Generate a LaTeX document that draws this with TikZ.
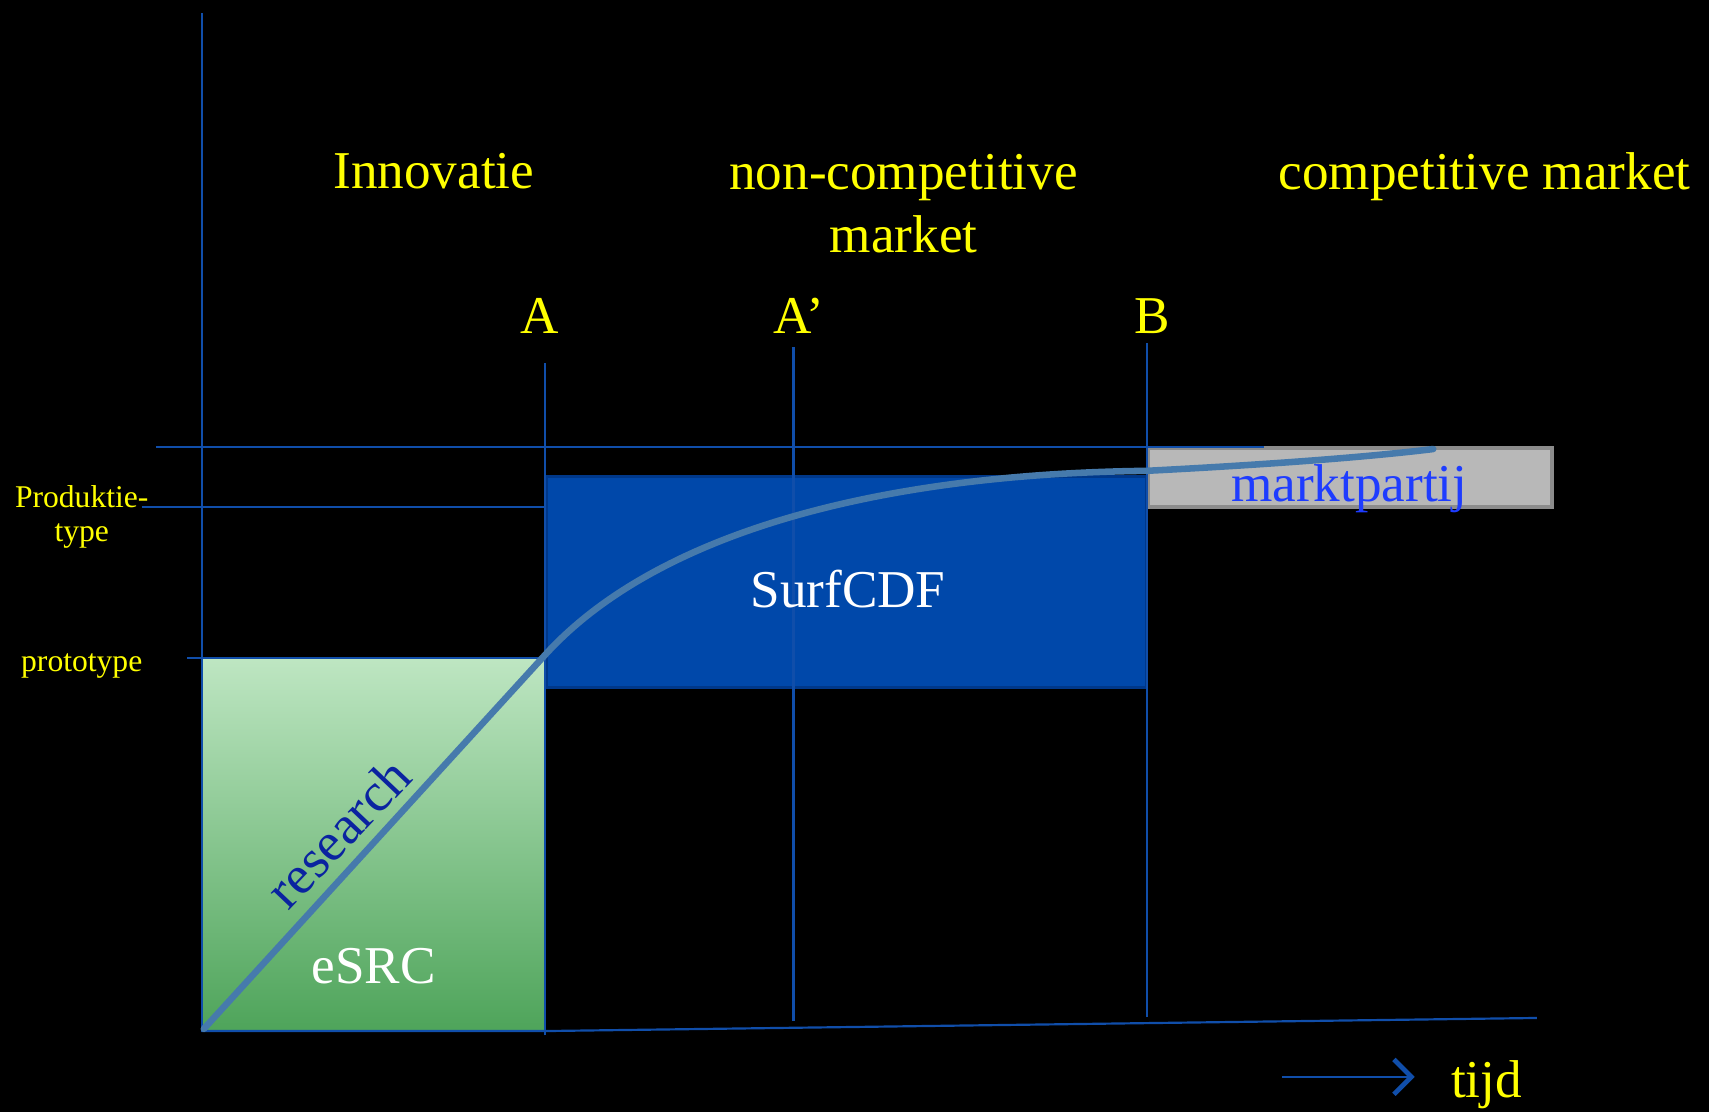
\documentclass[tikz,border=0pt]{standalone}
\usepackage{fontspec}
\setmainfont{Liberation Serif}
\usetikzlibrary{arrows.meta}

\definecolor{axisblue}{RGB}{16,78,170}
\definecolor{boxblue}{RGB}{0,72,170}
\definecolor{boxedge}{RGB}{0,56,138}
\definecolor{curveblue}{RGB}{70,122,172}
\definecolor{greentop}{RGB}{190,230,194}
\definecolor{greenbot}{RGB}{78,164,90}
\definecolor{labelyellow}{RGB}{255,255,0}
\definecolor{researchblue}{RGB}{10,35,160}
\definecolor{marktblue}{RGB}{30,60,255}

\tikzset{
	bigtxt/.style={font=\fontsize{24.4}{29}\selectfont},
	smalltxt/.style={font=\fontsize{14.5}{15.5}\selectfont},
	axisline/.style={draw=axisblue,line width=1pt},
}

\begin{document}
\begin{tikzpicture}[x=0.5pt,y=0.5pt]
	%background
	\useasboundingbox (0,0) rectangle (1568,1020);
	\fill[black] (0,0) rectangle (1568,1020);

	%boxes
	\shade[top color=greentop,bottom color=greenbot] (185,74) rectangle (500,416);	%eSRC
	\draw[axisblue,line width=0.8pt] (185,74) rectangle (500,416);
	\filldraw[fill=boxblue,draw=boxedge,line width=1.5pt] (501,389) rectangle (1052,583);	%SurfCDF
	\filldraw[fill=black!28,draw=black!45,line width=1.8pt] (1053,555) rectangle (1424,609);	%marktpartij

	%axis
	\draw[axisline] (185,74)--(185,1008);		%y-axis
	\draw[axisline] (185,74)--(500,74)--(1410,86);	%x-axis
	\draw[axisline] (143,610)--(1160,610);		%top level
	\draw[axisline] (130,555)--(500,555);		%produktie-type
	\draw[axisline] (172,416)--(185,416);		%prototype
	\draw[axisline] (500,70)--(500,687);		%A
	\draw[axisline] (728,83)--(728,702);		%A'
	\draw[axisline] (1052,87)--(1052,705);		%B

	%curve
	\draw[curveblue,line width=3pt,line cap=round] (187,76)--(500,419) .. controls (600,529) and (800,585) .. (1052,588) .. controls (1150,593) and (1250,600) .. (1315,608);

	%time arrow
	\coordinate (tstart) at (1176,32);
	\coordinate (tend) at (1298,32);
	\node[bigtxt,text=labelyellow] (tijd) at (1364,25) {tijd};
	\draw[axisblue,line width=1.2pt,-{Straight Barb[length=8pt,width=16pt,line width=2.2pt]}] (tstart)--(tend);

	%phase labels
	\node[bigtxt,text=labelyellow] (innov) at (398,863) {Innovatie};
	\node[bigtxt,text=labelyellow,align=center] (noncomp) at (829,833) {non-competitive\\market};
	\node[bigtxt,text=labelyellow] (comp) at (1362,858) {competitive market};
	\node[bigtxt,text=labelyellow] (lblA) at (495,730) {A};
	\node[bigtxt,text=labelyellow] (lblAp) at (733,730) {A’};
	\node[bigtxt,text=labelyellow] (lblB) at (1057,730) {B};

	%level labels
	\node[smalltxt,text=labelyellow,align=center] (prodtype) at (75,546) {Produktie-\\type};
	\node[smalltxt,text=labelyellow] (proto) at (75,409) {prototype};

	%box labels
	\node[bigtxt,text=white] (surf) at (778,480) {SurfCDF};
	\node[bigtxt,text=white] (esrc) at (343,134) {eSRC};
	\node[font=\fontsize{25}{30}\selectfont,text=researchblue,rotate=46.5] (research) at (310,256) {research};
	\node[bigtxt,text=marktblue] (markt) at (1238,572) {marktpartij};
\end{tikzpicture}
\end{document}
